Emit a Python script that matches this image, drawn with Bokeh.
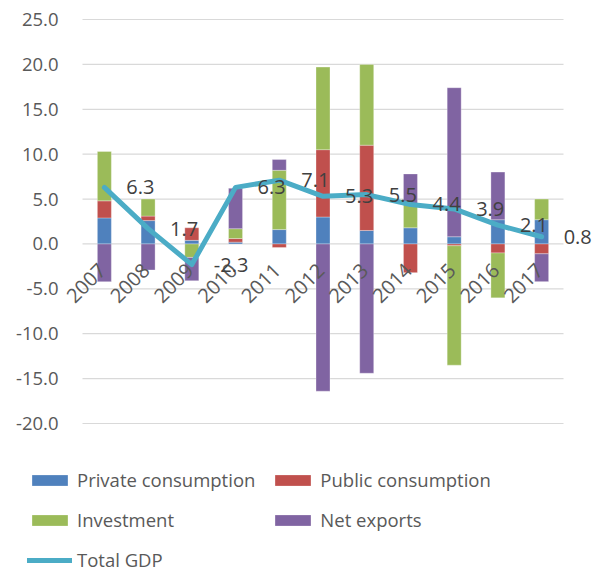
import numpy as np
from math import pi
from bokeh.plotting import figure
from bokeh.models import ColumnDataSource, Range1d, Legend, LegendItem, LabelSet
from bokeh.core.properties import value
from bokeh.embed import file_html
from bokeh.resources import INLINE

years = ["2007", "2008", "2009", "2010", "2011", "2012", "2013", "2014", "2015", "2016", "2017"]
private_consumption = [2.9, 2.6, 0.4, 0.2, 1.6, 3.0, 1.5, 1.8, 0.8, 2.7, 2.7]
public_consumption = [1.9, 0.5, 1.4, 0.4, -0.4, 7.5, 9.5, -3.2, -0.2, -1.0, -1.1]
investment = [5.5, 1.9, -1.5, 1.1, 6.6, 9.2, 9.0, 2.6, -13.3, -5.0, 2.3]
net_exports = [-4.2, -2.9, -2.6, 4.5, 1.2, -16.4, -14.4, 3.4, 16.6, 5.3, -3.1]
total_gdp = [6.3, 1.7, -2.3, 6.3, 7.1, 5.3, 5.5, 4.4, 3.9, 2.1, 0.8]
y_ticks = [-20, -15, -10, -5, 0, 5, 10, 15, 20, 25]

FONT = value("Open Sans")
W, H = 593, 571
# plot area in pixels (inside the canvas)
PL, PR, PT, PB = 82, 563, 19, 423
n = len(years)
y_min, y_max = min(y_ticks), max(y_ticks)
ppx = (PR - PL) / n                       # pixels per category
ppy = (PB - PT) / (y_max - y_min)         # pixels per unit
x_range = Range1d(-0.5 - PL / ppx, n - 0.5 + (W - PR) / ppx)
y_range = Range1d(y_min - (H - PB) / ppy, y_max + PT / ppy)

p = figure(width=W, height=H, x_range=x_range, y_range=y_range,
           x_axis_location=None, y_axis_location=None,
           output_backend="svg", toolbar_location=None,
           min_border=0, min_border_left=0, min_border_right=0,
           min_border_top=0, min_border_bottom=0)
p.outline_line_color = None
p.grid.visible = False

xs = np.arange(n)

# gridlines over the plot area
p.segment(x0=[-0.5] * len(y_ticks), x1=[n - 0.5] * len(y_ticks), y0=y_ticks, y1=y_ticks,
          line_color="#d9d9d9", line_width=1.2)

series = [
    ("Private consumption", private_consumption, "#4F81BD"),
    ("Public consumption", public_consumption, "#C0504D"),
    ("Investment", investment, "#9BBB59"),
    ("Net exports", net_exports, "#8064A2"),
]

pos = np.zeros(n)
neg = np.zeros(n)
items = {}
for name, vals, color in series:
    v = np.array(vals, dtype=float)
    bottom = np.where(v >= 0, pos, neg + v)
    top = np.where(v >= 0, pos + v, neg)
    pos = pos + np.where(v >= 0, v, 0)
    neg = neg + np.where(v < 0, v, 0)
    src = ColumnDataSource(dict(x=xs, bottom=bottom, top=top))
    r = p.vbar(x="x", bottom="bottom", top="top", width=0.32, source=src,
               fill_color=color, line_color="white", line_width=0.6, line_alpha=0.5)
    items[name] = r

line_src = ColumnDataSource(dict(x=xs, y=total_gdp, t=[f"{v:.1f}" for v in total_gdp],
                                 z=[0] * n, yr=years))
lr = p.line(x="x", y="y", source=line_src, line_color="#4BACC6", line_width=5,
            line_join="round", line_cap="round")
items["Total GDP"] = lr

# y tick labels
ysrc = ColumnDataSource(dict(x=[-0.5] * len(y_ticks), y=y_ticks, t=[f"{t:.1f}" for t in y_ticks]))
p.add_layout(LabelSet(x="x", y="y", text="t", source=ysrc, x_offset=-24,
                      text_align="right", text_baseline="middle",
                      text_font=FONT, text_font_size="18.5px", text_color="#595959"))

# category labels, rotated
p.add_layout(LabelSet(x="x", y="z", text="yr", source=line_src, angle=pi / 4,
                      text_align="right", text_baseline="middle", x_offset=-2, y_offset=-23,
                      text_font=FONT, text_font_size="20px", text_color="#595959"))

# data labels
p.add_layout(LabelSet(x="x", y="y", text="t", source=line_src, x_offset=22,
                      text_align="left", text_baseline="middle",
                      text_font=FONT, text_font_size="20px", text_color="#404040"))

# legend is laid out column by column
order = ["Private consumption", "Investment", "Total GDP", "Public consumption", "Net exports"]
legend = Legend(items=[LegendItem(label=k, renderers=[items[k]]) for k in order],
                ncols=2, location=(27, -1), glyph_width=45, glyph_height=14,
                label_standoff=5, label_width=178, spacing=15, padding=0, margin=0,
                border_line_color=None, background_fill_alpha=0,
                label_text_font="Open Sans", label_text_font_size="18.5px",
                label_text_color="#595959")
p.add_layout(legend, "center")

open("out.html", "w").write(file_html(p, INLINE))
